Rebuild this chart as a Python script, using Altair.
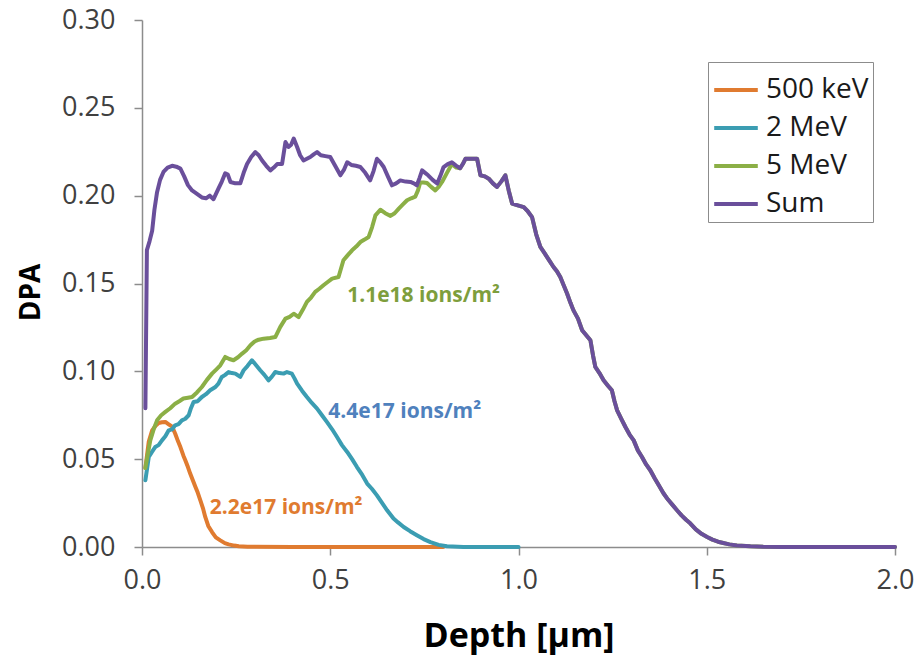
import altair as alt
import pandas as pd

series_names = ["500 keV", "2 MeV", "5 MeV", "Sum"]
series_colors = ["#E07B30", "#3B9DB2", "#8BAF46", "#6A4F9B"]

# 500 keV
kev500_x = [0.009, 0.018, 0.027, 0.036, 0.044, 0.053, 0.062, 0.070, 0.080, 0.088, 0.096, 0.102,
            0.110, 0.115, 0.122, 0.128, 0.135, 0.142, 0.148, 0.155, 0.162, 0.168, 0.176, 0.186,
            0.196, 0.208, 0.220, 0.230, 0.245, 0.257, 0.280, 0.400, 0.600, 0.800]
kev500_y = [0.045, 0.060, 0.0664, 0.069, 0.0706, 0.071, 0.0712, 0.070, 0.0685, 0.0646, 0.060, 0.0569,
            0.052, 0.0494, 0.0455, 0.0418, 0.038, 0.0342, 0.031, 0.0266, 0.022, 0.0171, 0.012, 0.0085,
            0.0055, 0.0038, 0.0022, 0.0015, 0.0008, 0.0004, 0.0001, 0.0, 0.0, 0.0]

# 2 MeV
mev2_x = [0.009, 0.018, 0.026, 0.035, 0.044, 0.053, 0.062, 0.071, 0.080, 0.088, 0.097, 0.106,
          0.115, 0.124, 0.130, 0.137, 0.148, 0.159, 0.170, 0.181, 0.195, 0.203, 0.212, 0.221,
          0.230, 0.239, 0.248, 0.261, 0.270, 0.280, 0.292, 0.301, 0.314, 0.325, 0.336, 0.345,
          0.354, 0.365, 0.376, 0.385, 0.398, 0.405, 0.412, 0.425, 0.438, 0.451, 0.465, 0.478,
          0.491, 0.505, 0.518, 0.531, 0.545, 0.558, 0.571, 0.585, 0.598, 0.611, 0.624, 0.638,
          0.651, 0.668, 0.680, 0.695, 0.712, 0.730, 0.748, 0.766, 0.788, 0.810, 0.854, 1.000]
mev2_y = [0.038, 0.0512, 0.054, 0.0569, 0.058, 0.0607, 0.063, 0.0664, 0.067, 0.0693, 0.070, 0.0721,
          0.073, 0.075, 0.079, 0.0825, 0.083, 0.0854, 0.087, 0.0892, 0.0911, 0.093, 0.0968, 0.098,
          0.0996, 0.099, 0.0987, 0.0968, 0.1006, 0.103, 0.1063, 0.104, 0.1006, 0.098, 0.0949, 0.097,
          0.0996, 0.099, 0.0987, 0.0996, 0.0987, 0.096, 0.093, 0.089, 0.0854, 0.082, 0.0788, 0.075,
          0.0712, 0.067, 0.0626, 0.058, 0.0541, 0.050, 0.0455, 0.041, 0.0361, 0.033, 0.0294, 0.025,
          0.0209, 0.0162, 0.014, 0.0114, 0.009, 0.0067, 0.0045, 0.0028, 0.0012, 0.0004, 0.0, 0.0]

# Sum
sum_x = [0.009, 0.013, 0.020, 0.027, 0.033, 0.040, 0.048, 0.057, 0.068, 0.080, 0.091, 0.102,
         0.112, 0.122, 0.133, 0.146, 0.159, 0.170, 0.180, 0.190, 0.203, 0.212, 0.221, 0.228,
         0.235, 0.248, 0.261, 0.270, 0.279, 0.290, 0.301, 0.310, 0.319, 0.330, 0.341, 0.350,
         0.359, 0.372, 0.381, 0.389, 0.396, 0.403, 0.412, 0.420, 0.429, 0.438, 0.447, 0.456,
         0.465, 0.475, 0.487, 0.500, 0.513, 0.527, 0.537, 0.545, 0.556, 0.568, 0.580, 0.593,
         0.606, 0.615, 0.624, 0.633, 0.642, 0.653, 0.664, 0.675, 0.686, 0.700, 0.713, 0.722,
         0.730, 0.737, 0.744, 0.752, 0.760, 0.772, 0.784, 0.792, 0.801, 0.812, 0.823, 0.835,
         0.845, 0.852, 0.859, 0.875, 0.890, 0.899, 0.910, 0.921, 0.932, 0.943, 0.954, 0.965,
         0.974, 0.983, 0.998, 1.014, 1.025, 1.036, 1.047, 1.058, 1.070, 1.082, 1.093, 1.102,
         1.111, 1.120, 1.129, 1.138, 1.146, 1.158, 1.169, 1.180, 1.191, 1.198, 1.204, 1.215,
         1.226, 1.237, 1.248, 1.255, 1.262, 1.273, 1.284, 1.295, 1.306, 1.317, 1.328, 1.339,
         1.350, 1.362, 1.373, 1.385, 1.397, 1.409, 1.421, 1.433, 1.445, 1.456, 1.471, 1.486,
         1.501, 1.515, 1.530, 1.544, 1.560, 1.580, 1.616, 1.650, 1.700, 2.000]
sum_y = [0.079, 0.169, 0.174, 0.180, 0.192, 0.202, 0.209, 0.2135, 0.216, 0.217, 0.2165, 0.2154,
         0.211, 0.206, 0.203, 0.201, 0.199, 0.1985, 0.200, 0.198, 0.204, 0.208, 0.2127, 0.212,
         0.2078, 0.207, 0.207, 0.213, 0.218, 0.222, 0.2248, 0.223, 0.220, 0.217, 0.2144, 0.216,
         0.218, 0.218, 0.2305, 0.2277, 0.229, 0.2325, 0.2277, 0.223, 0.220, 0.221, 0.222, 0.2235,
         0.2248, 0.223, 0.2225, 0.222, 0.217, 0.2116, 0.215, 0.219, 0.2175, 0.217, 0.2163, 0.213,
         0.2087, 0.214, 0.221, 0.219, 0.2163, 0.211, 0.2059, 0.207, 0.2087, 0.208, 0.2078, 0.207,
         0.2059, 0.210, 0.2144, 0.213, 0.2116, 0.209, 0.2069, 0.211, 0.2163, 0.218, 0.219, 0.217,
         0.2156, 0.218, 0.221, 0.221, 0.221, 0.2116, 0.211, 0.2097, 0.207, 0.205, 0.208, 0.2116,
         0.203, 0.1955, 0.1945, 0.1935, 0.191, 0.1878, 0.178, 0.1708, 0.167, 0.163, 0.1594, 0.157,
         0.1537, 0.149, 0.1443, 0.139, 0.1347, 0.130, 0.1234, 0.1205, 0.1177, 0.109, 0.1025, 0.099,
         0.0949, 0.092, 0.0892, 0.083, 0.0778, 0.073, 0.0683, 0.064, 0.0607, 0.055, 0.0512, 0.047,
         0.0437, 0.039, 0.035, 0.0306, 0.027, 0.024, 0.0209, 0.018, 0.0155, 0.0135, 0.010, 0.0075,
         0.0057, 0.0042, 0.003, 0.0023, 0.0015, 0.0009, 0.0004, 0.0001, 0.0, 0.0]

# 5 MeV (beyond ~0.86 µm it coincides with the Sum readings)
mev5_head_x = [0.009, 0.013, 0.022, 0.031, 0.040, 0.051, 0.062, 0.075, 0.088, 0.099, 0.110, 0.122,
               0.133, 0.146, 0.159, 0.172, 0.186, 0.197, 0.208, 0.221, 0.232, 0.243, 0.255, 0.266,
               0.277, 0.288, 0.299, 0.310, 0.323, 0.340, 0.354, 0.367, 0.381, 0.392, 0.403, 0.416,
               0.427, 0.438, 0.449, 0.460, 0.471, 0.482, 0.494, 0.505, 0.522, 0.535, 0.546, 0.558,
               0.569, 0.580, 0.591, 0.602, 0.611, 0.620, 0.633, 0.646, 0.660, 0.671, 0.682, 0.693,
               0.704, 0.715, 0.726, 0.733, 0.739, 0.748, 0.757, 0.768, 0.779, 0.788, 0.797, 0.810,
               0.823, 0.835, 0.845, 0.852]
mev5_head_y = [0.045, 0.050, 0.0607, 0.067, 0.0721, 0.075, 0.0769, 0.079, 0.0816, 0.083, 0.0845, 0.085,
               0.0854, 0.088, 0.0911, 0.095, 0.0987, 0.101, 0.1034, 0.1082, 0.107, 0.1063, 0.108, 0.1101,
               0.112, 0.1148, 0.117, 0.118, 0.1186, 0.119, 0.1195, 0.1252, 0.130, 0.131, 0.1328, 0.1309,
               0.135, 0.1395, 0.142, 0.1452, 0.147, 0.149, 0.151, 0.1528, 0.1537, 0.1632, 0.166, 0.1689,
               0.171, 0.1736, 0.175, 0.1765, 0.182, 0.1888, 0.192, 0.190, 0.1885, 0.190, 0.1926, 0.195,
               0.1974, 0.1985, 0.1995, 0.203, 0.2075, 0.2075, 0.2072, 0.205, 0.203, 0.205, 0.2078, 0.213,
               0.218, 0.216, 0.2156, 0.218]
mev5_x = mev5_head_x + [x for x in sum_x if x >= 0.859]
mev5_y = mev5_head_y + [y for x, y in zip(sum_x, sum_y) if x >= 0.859]

# Annotations
ann_text = ["1.1e18 ions/m²", "4.4e17 ions/m²", "2.2e17 ions/m²"]
ann_x = [0.545, 0.495, 0.180]
ann_y = [0.1430, 0.0770, 0.0222]
ann_color = ["#7E9E3C", "#4F81BD", "#E07B30"]

rows = []
for name, xs, ys in zip(series_names, [kev500_x, mev2_x, mev5_x, sum_x],
                        [kev500_y, mev2_y, mev5_y, sum_y]):
    for i, (x, y) in enumerate(zip(xs, ys)):
        rows.append({"series": name, "depth": x, "dpa": y, "idx": i})
df = pd.DataFrame(rows)

ann_df = pd.DataFrame({"text": ann_text, "depth": ann_x, "dpa": ann_y, "c": ann_color})

FONT = "Open Sans"
AX = "#8C8C8C"

x_enc = alt.X("depth:Q",
              scale=alt.Scale(domain=[0, 2], nice=False, zero=False),
              axis=alt.Axis(values=[0, 0.5, 1.0, 1.5, 2.0], format=".1f", title="Depth [µm]",
                            grid=False, tickSize=8, tickColor=AX, tickWidth=1.5,
                            domainColor=AX, domainWidth=1.5, labelFlush=False,
                            labelFont=FONT, labelFontSize=27, labelColor="#404040",
                            labelPadding=12,
                            titleFont=FONT, titleFontSize=34, titleFontWeight="bold",
                            titleColor="#000000", titleY=89, titleBaseline="middle"))
y_enc = alt.Y("dpa:Q",
              scale=alt.Scale(domain=[0, 0.3], nice=False),
              axis=alt.Axis(values=[0, 0.05, 0.10, 0.15, 0.20, 0.25, 0.30], format=".2f",
                            title="DPA", grid=False, tickSize=8, tickColor=AX, tickWidth=1.5,
                            domainColor=AX, domainWidth=1.5, labelFlush=False,
                            labelFont=FONT, labelFontSize=27, labelColor="#404040",
                            labelPadding=19,
                            titleFont=FONT, titleFontSize=28, titleFontWeight="bold",
                            titleColor="#000000", titleX=-111, titleY=272,
                            titleAlign="center", titleBaseline="middle"))

color_enc = alt.Color("series:N",
                      scale=alt.Scale(domain=series_names, range=series_colors),
                      legend=alt.Legend(title=None, orient="none", legendX=566, legendY=42,
                                        symbolType="stroke", symbolStrokeWidth=4,
                                        symbolSize=1900, labelFont=FONT, labelFontSize=28,
                                        labelColor="#1A1A1A", labelOffset=6, rowPadding=0,
                                        strokeColor=AX, fillColor="#FFFFFF", padding=4,
                                        cornerRadius=0))

base = alt.Chart(df).mark_line(strokeWidth=4, strokeJoin="round", strokeCap="round").encode(
    x=x_enc, y=y_enc, color=color_enc, order="idx:Q")

layers = [base.transform_filter(alt.datum.series == n) for n in series_names]

text = alt.Chart(ann_df).mark_text(font=FONT, fontSize=21, fontWeight="bold", align="left",
                                   baseline="middle").encode(
    x="depth:Q", y="dpa:Q", text="text:N", color=alt.Color("c:N", scale=None))

chart = alt.layer(*layers, text).properties(
    width=753, height=527,
    padding={"left": 142, "top": 20, "right": 25, "bottom": 113},
    autosize="none",
    background="#FFFFFF",
).configure_view(stroke=None)

chart.save("out.html", embed_options={"renderer": "svg", "actions": False})
